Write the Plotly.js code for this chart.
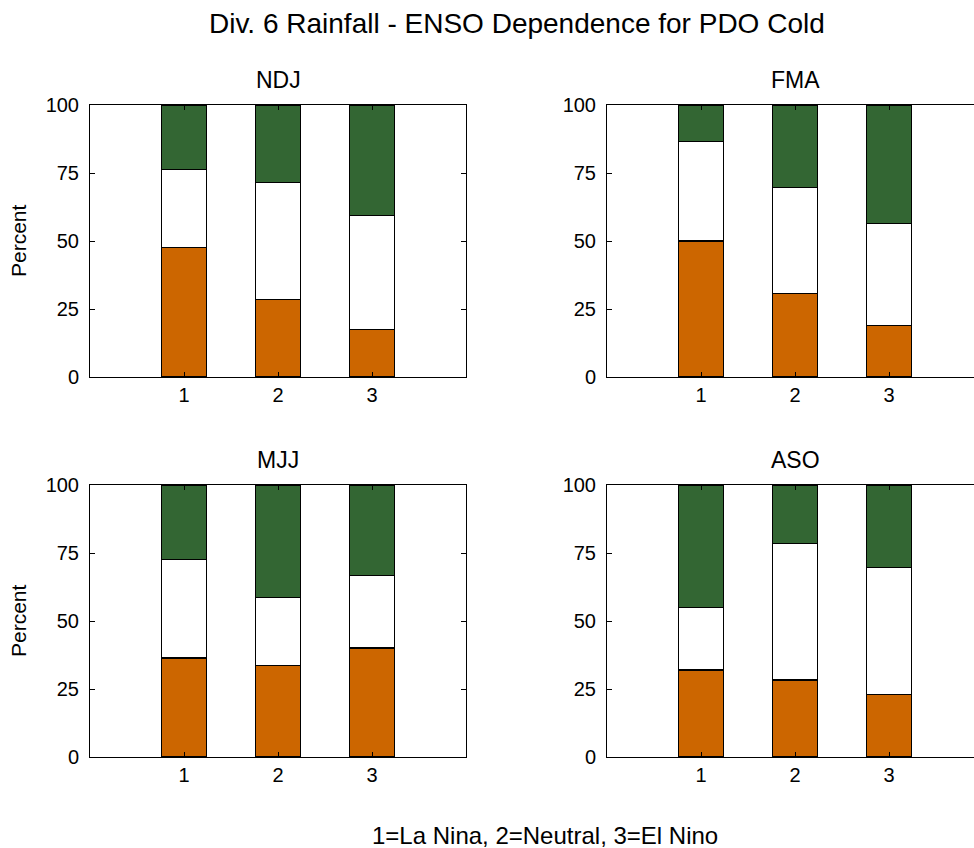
<!DOCTYPE html>
<html>
<head>
<meta charset="utf-8">
<script src="https://cdn.plot.ly/plotly-3.0.1.min.js"></script>
<style>
  html, body { margin: 0; padding: 0; overflow: hidden; background: #fff; }
  #chart { width: 1000px; height: 848px; }
</style>
</head>
<body>
<div id="chart"></div>
<script>
// ENSO phase categories (1=La Nina, 2=Neutral, 3=El Nino)
const ensoPhase = [1, 2, 3];
const tickVals = [0, 25, 50, 75, 100];

// Segment heights (percent), bottom (orange), middle (white), top (green)
const ndjBelow = [47.6, 28.6, 17.4];
const ndjNear  = [28.6, 42.8, 41.9];
const ndjAbove = [23.8, 28.6, 40.7];

const fmaBelow = [50.0, 30.8, 18.9];
const fmaNear  = [36.7, 38.9, 37.4];
const fmaAbove = [13.3, 30.3, 43.7];

const mjjBelow = [36.4, 33.5, 40.1];
const mjjNear  = [36.2, 25.0, 26.6];
const mjjAbove = [27.4, 41.5, 33.3];

const asoBelow = [32.0, 28.3, 23.1];
const asoNear  = [23.0, 50.1, 46.6];
const asoAbove = [45.0, 21.6, 30.3];

const seasons = ['NDJ', 'FMA', 'MJJ', 'ASO'];

const W = 1000, H = 848;
const FONT = 'Liberation Sans, Arial, Helvetica, sans-serif';
const colors = { below: '#CC6600', near: '#FFFFFF', above: '#336633' };

const panels = [
  { name: seasons[0], b: ndjBelow, n: ndjNear, a: ndjAbove, xa: 'x',  ya: 'y'  },
  { name: seasons[1], b: fmaBelow, n: fmaNear, a: fmaAbove, xa: 'x2', ya: 'y2' },
  { name: seasons[2], b: mjjBelow, n: mjjNear, a: mjjAbove, xa: 'x3', ya: 'y3' },
  { name: seasons[3], b: asoBelow, n: asoNear, a: asoAbove, xa: 'x4', ya: 'y4' }
];

const traces = [];
panels.forEach(p => {
  [['below', p.b], ['near', p.n], ['above', p.a]].forEach(([k, vals]) => {
    traces.push({
      type: 'bar', x: ensoPhase, y: vals, xaxis: p.xa, yaxis: p.ya,
      width: 0.48, showlegend: false, hoverinfo: 'y',
      marker: { color: colors[k], line: { color: '#000', width: 1.2 } }
    });
  });
});

function px(x) { return x / W; }
function py(y) { return 1 - y / H; }

const xDomL = [px(90), px(466)], xDomR = [px(607), px(983)];
const yDomT = [py(377), py(105)], yDomB = [py(757), py(485)];

function xAxis(dom, anchor) {
  return {
    domain: dom, anchor: anchor, range: [0, 4], tickvals: ensoPhase, ticktext: ['1', '2', '3'],
    showline: true, linecolor: '#000', linewidth: 1, mirror: 'ticks',
    ticks: 'inside', ticklen: 5, tickcolor: '#000', showgrid: false, zeroline: false,
    tickfont: { family: FONT, size: 20, color: '#000' }, fixedrange: true
  };
}
function yAxis(dom, anchor) {
  return {
    domain: dom, anchor: anchor, range: [0, 100], tickvals: tickVals,
    showline: true, linecolor: '#000', linewidth: 1, mirror: 'ticks',
    ticks: 'inside', ticklen: 5, tickcolor: '#000', showgrid: false, zeroline: false,
    tickfont: { family: FONT, size: 20, color: '#000' }, ticklabelstandoff: 6, fixedrange: true
  };
}

const ann = (text, x, y, size, extra) => Object.assign({
  text: text, xref: 'paper', yref: 'paper', x: px(x), y: py(y),
  xanchor: 'center', yanchor: 'middle', showarrow: false,
  font: { family: FONT, size: size, color: '#000' }
}, extra || {});

const layout = {
  width: W, height: H, margin: { l: 0, r: 0, t: 0, b: 0 },
  paper_bgcolor: '#fff', plot_bgcolor: '#fff', barmode: 'stack', bargap: 0,
  xaxis: xAxis(xDomL, 'y'), yaxis: yAxis(yDomT, 'x'),
  xaxis2: xAxis(xDomR, 'y2'), yaxis2: yAxis(yDomT, 'x2'),
  xaxis3: xAxis(xDomL, 'y3'), yaxis3: yAxis(yDomB, 'x3'),
  xaxis4: xAxis(xDomR, 'y4'), yaxis4: yAxis(yDomB, 'x4'),
  annotations: [
    ann('Div. 6 Rainfall - ENSO Dependence for PDO Cold', 517, 24, 28),
    ann(seasons[0], 278, 80, 23),
    ann(seasons[1], 795, 80, 23),
    ann(seasons[2], 278, 460, 23),
    ann(seasons[3], 795, 460, 23),
    ann('Percent', 18, 241, 21, { textangle: -90 }),
    ann('Percent', 18, 621, 21, { textangle: -90 }),
    ann('1=La Nina, 2=Neutral, 3=El Nino', 370, 835, 24, { xanchor: 'left' })
  ]
};

Plotly.newPlot('chart', traces, layout, { displayModeBar: false, staticPlot: true });
</script>
</body>
</html>
